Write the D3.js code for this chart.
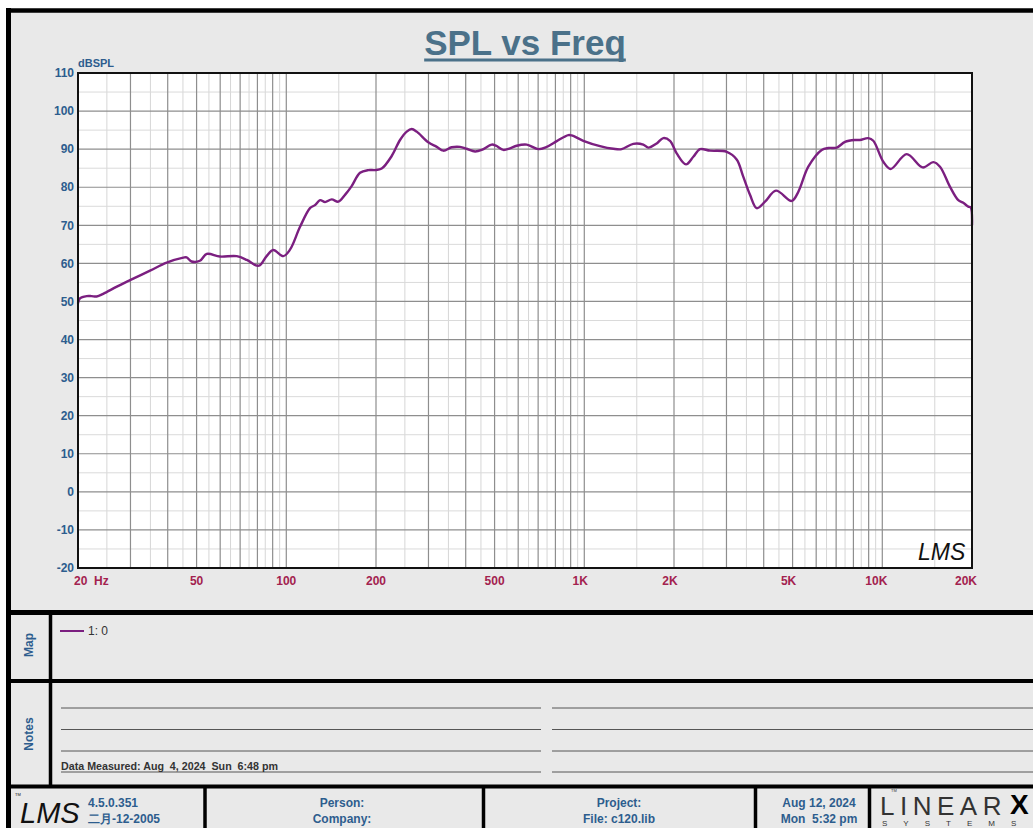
<!DOCTYPE html>
<html><head><meta charset="utf-8">
<script src="https://cdn.jsdelivr.net/npm/d3@7"></script>
<style>body{margin:0;background:#fff}svg{display:block}text{font-family:"Liberation Sans",Arial,sans-serif}</style>
</head><body><svg id="c" width="1033" height="828"></svg>
<script>
const freqs = [20, 20.3, 21.4, 22.2, 23.1, 24.3, 27.0, 29.9, 34.9, 39.7, 45.1, 46.3, 48.1, 51.3, 54.1, 59.9, 68.2, 73.7, 79.6, 81.6, 85.9, 90.4, 97.7, 102.9, 111.2, 120.1, 124.8, 129.8, 134.9, 142.0, 149.5, 157.4, 165.7, 176.8, 188.5, 198.4, 209.0, 225.8, 240.8, 253.6, 263.6, 273.9, 299.6, 319.8, 336.4, 359.0, 382.8, 403.2, 429.9, 452.6, 489.0, 505.3, 534.7, 563.3, 593.3, 640.8, 701.0, 748.0, 808.2, 883.8, 907.4, 992.4, 1129, 1252, 1335, 1460, 1578, 1640, 1750, 1841, 1939, 2042, 2194, 2322, 2446, 2642, 3006, 3246, 3408, 3598, 3790, 4040, 4398, 4966, 5226, 5646, 6262, 6590, 7032, 7498, 8100, 8418, 8974, 9328, 10078, 10672, 12074, 13666, 14832, 15618, 16878, 17990, 18698, 19438, 19798, 20000];
const spl = [49.5, 50.8, 51.4, 51.4, 51.3, 52.0, 53.9, 55.6, 58.1, 60.2, 61.5, 61.6, 60.5, 60.7, 62.5, 61.8, 61.9, 60.9, 59.4, 59.5, 61.9, 63.5, 61.9, 63.6, 69.6, 74.5, 75.3, 76.6, 76.1, 76.8, 76.2, 78.0, 80.3, 83.8, 84.5, 84.5, 84.9, 88.2, 92.4, 94.6, 95.3, 94.6, 91.8, 90.6, 89.6, 90.5, 90.6, 90.1, 89.4, 89.8, 91.2, 90.9, 89.8, 90.2, 90.9, 91.2, 90.0, 90.6, 92.1, 93.7, 93.6, 92.2, 90.8, 90.1, 90.0, 91.4, 91.2, 90.4, 91.5, 92.9, 92.2, 88.9, 86.0, 88.0, 90.0, 89.6, 89.3, 87.3, 83.0, 78.0, 74.5, 76.2, 79.1, 76.4, 78.8, 85.4, 89.8, 90.3, 90.4, 91.9, 92.4, 92.4, 92.9, 92.2, 86.7, 84.8, 88.7, 85.2, 86.6, 85.4, 80.1, 76.6, 75.9, 74.9, 74.7, 70.0];
const yTicks = [110, 100, 90, 80, 70, 60, 50, 40, 30, 20, 10, 0, -10, -20];
const xTickValues = [50, 100, 200, 500, 1000, 2000, 5000, 10000, 20000];
const xTickLabels = ["50", "100", "200", "500", "1K", "2K", "5K", "10K", "20K"];
const legendLabels = ["1: 0"];
const titleText = "SPL vs Freq";
const yUnit = "dBSPL";
const footerTexts = {ver: ["4.5.0.351", "二月-12-2005"], person: ["Person:", "Company:"], project: ["Project:", "File: c120.lib"], date: ["Aug 12, 2024", "Mon  5:32 pm"]};
const notesText = "Data Measured: Aug  4, 2024  Sun  6:48 pm";

const svg = d3.select("#c");
const BLUE = "#2d5d8e", RED = "#a3224f", CURVE = "#7b1f80";
const L = 78, R = 972, T = 73, B = 568;
const x = d3.scaleLog().domain([20, 20000]).range([L, R]);
const y = d3.scaleLinear().domain([-20, 110]).range([B, T]);

// frame background
svg.append("rect").attr("x", 8).attr("y", 10).attr("width", 1040).attr("height", 830).attr("fill", "#e9e9e9");

// plot area
svg.append("rect").attr("x", L).attr("y", T).attr("width", R - L).attr("height", B - T).attr("fill", "#fff");

// grid
const minorF = [], majorF = [];
[10, 100, 1000, 10000].forEach(d => {
  for (let m = 1; m <= 9; m++) {
    const f = m * d; if (f > 20 && f < 20000) majorF.push(f);
    const g = (m + 0.5) * d; if (g > 20 && g < 20000) minorF.push(g);
  }
});
const grid = svg.append("g");
grid.selectAll(".vm").data(minorF).join("line").attr("x1", d => x(d)).attr("x2", d => x(d)).attr("y1", T).attr("y2", B).attr("stroke", "#d6d6d6").attr("stroke-width", 1);
const hMinor = d3.range(-15, 110, 10);
grid.selectAll(".hm").data(hMinor).join("line").attr("x1", L).attr("x2", R).attr("y1", d => y(d)).attr("y2", d => y(d)).attr("stroke", "#dadada").attr("stroke-width", 1);
grid.selectAll(".vM").data(majorF).join("line").attr("x1", d => x(d)).attr("x2", d => x(d)).attr("y1", T).attr("y2", B).attr("stroke", "#8e8e8e").attr("stroke-width", 1.2);
grid.selectAll(".hM").data(yTicks.filter(v => v > -20 && v < 110)).join("line").attr("x1", L).attr("x2", R).attr("y1", d => y(d)).attr("y2", d => y(d)).attr("stroke", "#8e8e8e").attr("stroke-width", 1.2);

// curve
const pts = freqs.map((f, i) => [f, spl[i]]);
svg.append("path").datum(pts)
  .attr("d", d3.line().x(d => x(d[0])).y(d => y(d[1])).curve(d3.curveCatmullRom.alpha(0.5)))
  .attr("fill", "none").attr("stroke", CURVE).attr("stroke-width", 2.4).attr("stroke-linejoin", "round");

// plot border
svg.append("rect").attr("x", L).attr("y", T).attr("width", R - L).attr("height", B - T).attr("fill", "none").attr("stroke", "#111").attr("stroke-width", 2);

// y labels
svg.append("g").selectAll("text").data(yTicks).join("text")
  .attr("x", L - 4).attr("y", d => y(d)).attr("dy", "0.35em").attr("text-anchor", "end")
  .attr("font-size", 12).attr("font-weight", "bold").attr("fill", BLUE).text(d => d);
svg.append("text").attr("x", L).attr("y", 67).attr("font-size", 11).attr("font-weight", "bold").attr("fill", BLUE).text(yUnit);

// x labels
svg.append("text").attr("x", 74).attr("y", 585).attr("font-size", 12).attr("font-weight", "bold").attr("fill", RED).attr("xml:space", "preserve").style("white-space", "pre").text("20  Hz");
svg.append("g").selectAll("text").data(xTickValues).join("text")
  .attr("x", (d, i) => x(d) - (xTickLabels[i].endsWith("K") ? Math.min(7, xTickLabels[i].length * 2) : 0))
  .attr("y", 585).attr("text-anchor", "middle")
  .attr("font-size", 12).attr("font-weight", "bold").attr("fill", RED).text((d, i) => xTickLabels[i]);

// title
const title = svg.append("text").attr("x", 525).attr("y", 55).attr("text-anchor", "middle")
  .attr("font-size", 35).attr("font-weight", "bold").attr("fill", "#4b7189").text(titleText);
const tb = title.node().getBBox();
svg.append("line").attr("x1", tb.x).attr("x2", tb.x + tb.width).attr("y1", 60).attr("y2", 60).attr("stroke", "#4b7189").attr("stroke-width", 3);

// LMS logo inside plot
svg.append("text").attr("x", 918).attr("y", 560).attr("font-size", 23).attr("font-style", "italic").attr("font-family", "DejaVu Serif").attr("fill", "#111").text("LMS");

// legend (Map)
svg.append("g").selectAll("line").data(legendLabels).join("line").attr("x1", 60).attr("x2", 84).attr("y1", (d, i) => 631 + i * 16).attr("y2", (d, i) => 631 + i * 16).attr("stroke", CURVE).attr("stroke-width", 2);
svg.append("g").selectAll("text").data(legendLabels).join("text").attr("x", 88).attr("y", (d, i) => 631 + i * 16).attr("dy", "0.35em").attr("font-size", 12).attr("fill", "#333").text(d => d);

// section labels
svg.append("text").attr("transform", "translate(33,645) rotate(-90)").attr("text-anchor", "middle").attr("font-size", 12).attr("font-weight", "bold").attr("fill", BLUE).text("Map");
svg.append("text").attr("transform", "translate(33,734) rotate(-90)").attr("text-anchor", "middle").attr("font-size", 12).attr("font-weight", "bold").attr("fill", BLUE).text("Notes");

// notes lines
const noteY = [708, 729.5, 751, 772];
svg.append("g").selectAll("line").data(noteY).join("line").attr("x1", 61).attr("x2", 541).attr("y1", d => d).attr("y2", d => d).attr("stroke", "#555").attr("stroke-width", 1);
svg.append("g").selectAll("line").data(noteY).join("line").attr("x1", 552).attr("x2", 1040).attr("y1", d => d).attr("y2", d => d).attr("stroke", "#555").attr("stroke-width", 1);
svg.append("text").attr("x", 61).attr("y", 770).attr("font-size", 10.7).attr("font-weight", "bold").attr("fill", "#333").attr("xml:space", "preserve").style("white-space", "pre").text(notesText);

// footer texts
function two(cx, arr, anchor, fs) {
  arr.forEach((t, i) => svg.append("text").attr("x", cx).attr("y", 807 + i * 16).attr("text-anchor", anchor).attr("font-size", fs || 12).attr("font-weight", "bold").attr("fill", BLUE).attr("xml:space", "preserve").style("white-space", "pre").text(t));
}
two(88, footerTexts.ver, "start");
two(342, footerTexts.person, "middle");
two(619, footerTexts.project, "middle");
two(819, footerTexts.date, "middle");
svg.append("text").attr("x", 20).attr("y", 823).attr("font-size", 29).attr("font-style", "italic").attr("font-family", "DejaVu Serif").attr("fill", "#111").text("LMS");
svg.append("text").attr("x", 15).attr("y", 796).attr("font-size", 4).attr("fill", "#111").text("TM");

// LINEARX logo
svg.append("text").attr("x", 880).attr("y", 815).attr("font-size", 26).attr("font-family", "Liberation Serif").attr("letter-spacing", 5.5).attr("fill", "#333").text("LINEAR");
svg.append("text").attr("x", 1010).attr("y", 814).attr("font-size", 28).attr("font-weight", "900").attr("font-family", "DejaVu Sans").attr("fill", "#000").text("X");
svg.append("text").attr("x", 891).attr("y", 792).attr("font-size", 4).attr("fill", "#333").text("TM");
svg.append("text").attr("x", 882).attr("y", 826).attr("font-size", 8).attr("font-family", "Liberation Serif").attr("letter-spacing", 16).attr("fill", "#333").text("SYSTEMS");

// frame lines
const fl = [
  [6, 10.5, 1045, 10.5, 4.5],
  [8.5, 8, 8.5, 835, 5],
  [6, 612.5, 1045, 612.5, 5],
  [6, 681, 1045, 681, 4],
  [6, 786.5, 1045, 786.5, 4],
  [50.5, 612, 50.5, 786, 3.5],
  [205, 786, 205, 835, 3.5],
  [483.5, 786, 483.5, 835, 3.5],
  [755.5, 786, 755.5, 835, 3.5],
  [869.5, 786, 869.5, 835, 3.5]
];
svg.append("g").selectAll("line").data(fl).join("line").attr("x1", d => d[0]).attr("y1", d => d[1]).attr("x2", d => d[2]).attr("y2", d => d[3]).attr("stroke", "#000").attr("stroke-width", d => d[4]);
</script></body></html>
